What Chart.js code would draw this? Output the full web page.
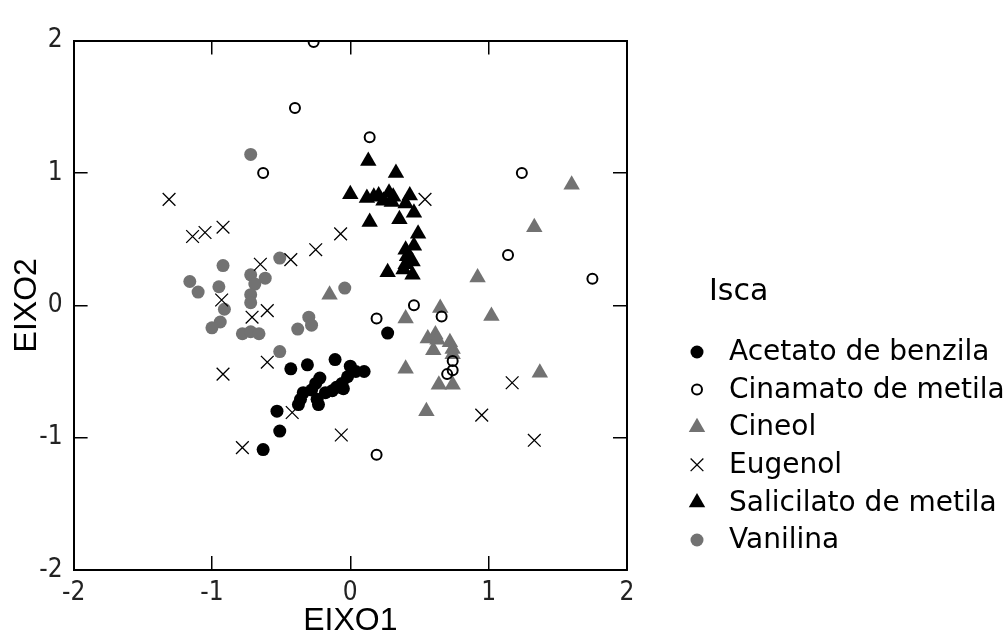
<!DOCTYPE html>
<html>
<head>
<meta charset="utf-8">
<title>Isca</title>
<script src="https://cdn.jsdelivr.net/npm/chart.js@4.4.1/dist/chart.umd.min.js"></script>
<style>
  body { margin: 0; background: #fff; }
</style>
</head>
<body>
<canvas id="chart" width="1008" height="643"></canvas>
<script>
const legendTitle = 'Isca';
const axisTicks = [-2, -1, 0, 1, 2];

const acetatoX = [-0.43, -0.31, -0.11, 0.00, 0.10, 0.04, -0.02, -0.06, -0.10, -0.05, -0.13, -0.18, -0.22, -0.25, -0.24, -0.23, -0.34, -0.36, -0.375, -0.28, -0.53, -0.51, -0.63, 0.27];
const acetatoY = [-0.48, -0.45, -0.41, -0.46, -0.50, -0.50, -0.54, -0.59, -0.62, -0.63, -0.645, -0.66, -0.55, -0.59, -0.71, -0.75, -0.66, -0.71, -0.75, -0.64, -0.80, -0.95, -1.09, -0.21];

const cinamatoX = [-0.265, -0.40, -0.63, 0.14, 1.24, 1.14, 1.75, 0.46, 0.19, 0.66, 0.74, 0.74, 0.70, 0.19];
const cinamatoY = [1.99, 1.49, 1.00, 1.27, 1.00, 0.38, 0.20, 0.00, -0.10, -0.085, -0.42, -0.49, -0.52, -1.13];

const cineolX = [-0.15, 1.60, 1.33, 0.92, 1.02, 1.37, 0.55, 0.40, 0.65, 0.56, 0.615, 0.63, 0.60, 0.72, 0.74, 0.74, 0.40, 0.64, 0.74];
const cineolY = [0.08, 0.91, 0.59, 0.21, -0.08, -0.51, -0.80, -0.10, -0.02, -0.25, -0.22, -0.26, -0.34, -0.28, -0.33, -0.37, -0.48, -0.60, -0.60];

const eugenolX = [-1.31, -1.14, -1.05, -0.92, -0.65, -0.43, -0.25, -0.07, 0.54, -0.93, -0.71, -0.60, -0.60, -0.92, -0.42, -0.065, -0.78, 1.17, 0.95, 1.33];
const eugenolY = [0.80, 0.52, 0.55, 0.59, 0.31, 0.345, 0.42, 0.54, 0.80, 0.04, -0.09, -0.04, -0.43, -0.52, -0.81, -0.98, -1.075, -0.585, -0.83, -1.02];

const salicilatoX = [0.13, 0.33, 0.00, 0.12, 0.17, 0.205, 0.24, 0.28, 0.31, 0.30, 0.43, 0.40, 0.46, 0.14, 0.355, 0.49, 0.46, 0.40, 0.41, 0.45, 0.40, 0.27, 0.385, 0.45];
const salicilatoY = [1.09, 1.00, 0.84, 0.81, 0.82, 0.83, 0.79, 0.85, 0.82, 0.78, 0.83, 0.77, 0.70, 0.63, 0.65, 0.54, 0.45, 0.42, 0.37, 0.33, 0.31, 0.25, 0.27, 0.23];

const vanilinaX = [-0.72, -0.92, -0.51, -1.16, -1.10, -0.95, -0.72, -0.69, -0.615, -0.72, -0.72, -0.91, -0.94, -1.00, -0.78, -0.72, -0.66, -0.38, -0.30, -0.28, -0.51, -0.04];
const vanilinaY = [1.14, 0.30, 0.357, 0.18, 0.10, 0.14, 0.23, 0.16, 0.205, 0.08, 0.02, -0.03, -0.126, -0.17, -0.215, -0.20, -0.215, -0.18, -0.09, -0.15, -0.35, 0.13];

const gray = '#727272';
const tickFont = '"Liberation Sans Narrow", "DejaVu Sans Condensed", "Liberation Sans", Arial, sans-serif';
const textFont = '"Liberation Sans", Arial, sans-serif';

function points(xs, ys) {
    return xs.map((x, i) => ({ x: x, y: ys[i] }));
}

function series(label, xs, ys, style, order) {
    return Object.assign({ label: label, data: points(xs, ys), order: order, pointHoverRadius: 0 }, style);
}

const datasets = [
    series('Acetato de benzila', acetatoX, acetatoY,
        { pointStyle: 'circle', pointRadius: 6.5, backgroundColor: '#000', borderColor: '#000', borderWidth: 0 }, 3),
    series('Cinamato de metila', cinamatoX, cinamatoY,
        { pointStyle: 'circle', pointRadius: 5, backgroundColor: 'rgba(0,0,0,0)', borderColor: '#000', borderWidth: 2 }, 1),
    series('Cineol', cineolX, cineolY,
        { pointStyle: 'triangle', pointRadius: 9.5, backgroundColor: gray, borderColor: gray, borderWidth: 0 }, 5),
    series('Eugenol', eugenolX, eugenolY,
        { pointStyle: 'crossRot', pointRadius: 9, backgroundColor: '#000', borderColor: '#000', borderWidth: 1.3 }, 2),
    series('Salicilato de metila', salicilatoX, salicilatoY,
        { pointStyle: 'triangle', pointRadius: 9.5, backgroundColor: '#000', borderColor: '#000', borderWidth: 0 }, 4),
    series('Vanilina', vanilinaX, vanilinaY,
        { pointStyle: 'circle', pointRadius: 6.5, backgroundColor: gray, borderColor: gray, borderWidth: 0 }, 6)
];

// legend drawn by hand so it sits where the original one is
const iscaLegend = {
    id: 'iscaLegend',
    afterDraw(chart) {
        const ctx = chart.ctx;
        ctx.save();
        ctx.textAlign = 'left';
        ctx.textBaseline = 'middle';
        ctx.fillStyle = '#000';
        ctx.font = '30px "DejaVu Sans"';
        ctx.fillText(legendTitle, 709, 292);
        ctx.font = '28px "DejaVu Sans"';
        chart.data.datasets.forEach((ds, i) => {
            const y = 352 + i * 37.6;
            ctx.fillStyle = ds.backgroundColor;
            ctx.strokeStyle = ds.borderColor;
            ctx.lineWidth = ds.borderWidth;
            Chart.helpers.drawPoint(ctx, {
                pointStyle: ds.pointStyle,
                radius: ds.pointRadius,
                rotation: 0,
                borderWidth: ds.borderWidth
            }, 697, y);
            ctx.fillStyle = '#000';
            ctx.fillText(ds.label, 729, y + 1);
        });
        ctx.restore();
    }
};

function frameAxis(position, size, extra) {
    const horizontal = position === 'top' || position === 'bottom';
    return Object.assign({
        type: 'linear',
        position: position,
        min: axisTicks[0],
        max: axisTicks[axisTicks.length - 1],
        ticks: { stepSize: 1, display: false },
        grid: { drawOnChartArea: false, drawTicks: true, tickLength: -14, color: '#000', lineWidth: 1.5 },
        border: { display: true, color: '#000', width: 2 },
        afterFit(scale) {
            if (horizontal) scale.height = size; else scale.width = size;
        }
    }, extra);
}

const ctx = document.getElementById('chart').getContext('2d');

new Chart(ctx, {
    type: 'scatter',
    data: { datasets: datasets },
    options: {
        responsive: false,
        animation: false,
        events: [],
        layout: { padding: { top: 18, right: 381, bottom: 0, left: 0 } },
        plugins: {
            legend: { display: false },
            tooltip: { enabled: false }
        },
        scales: {
            x: frameAxis('bottom', 73, {
                ticks: { stepSize: 1, padding: 22, color: '#222', font: { family: tickFont, size: 26 } },
                title: { display: true, text: 'EIXO1', color: '#000', font: { family: textFont, size: 32 }, padding: { top: 0, bottom: 3 } }
            }),
            x2: frameAxis('top', 0),
            y: frameAxis('left', 73.6, {
                ticks: { stepSize: 1, padding: 25, color: '#222', font: { family: tickFont, size: 26 } },
                title: { display: true, text: 'EIXO2', color: '#000', font: { family: textFont, size: 32 }, padding: { top: 8, bottom: 0 } }
            }),
            y2: frameAxis('right', 0)
        }
    },
    plugins: [iscaLegend]
});
</script>
</body>
</html>
